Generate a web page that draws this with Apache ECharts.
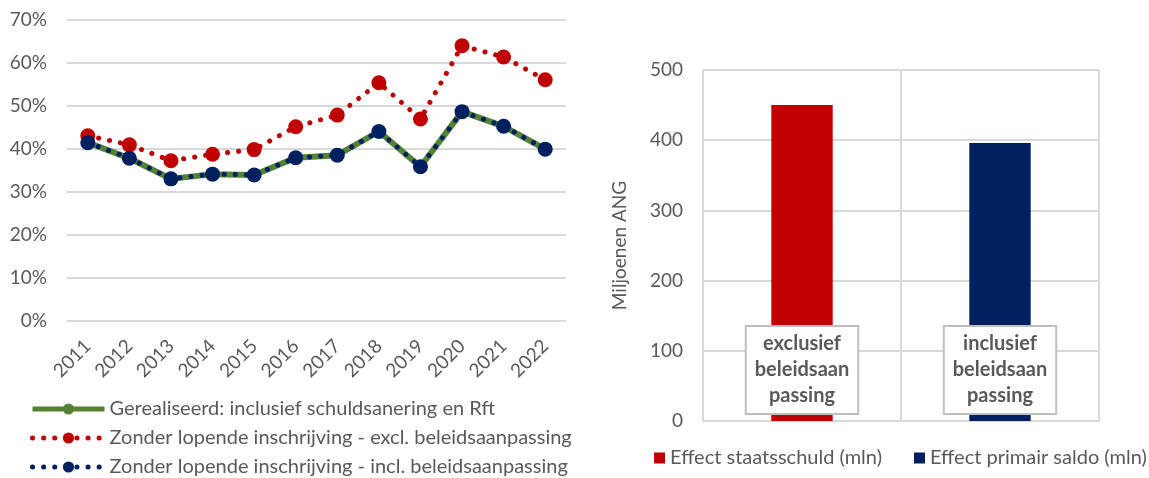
<!DOCTYPE html>
<html>
<head>
    <meta charset="utf-8">
    <title>ECharts</title>
    <script src="https://cdn.jsdelivr.net/npm/echarts@6/dist/echarts.min.js"></script>
</head>
<body style="margin:0">
    <div id="main" style="width: 1149px; height:478px;"></div>

    <script type="text/javascript">
        // data links: aandeel per jaar (%)
        var years = ['2011', '2012', '2013', '2014', '2015', '2016', '2017', '2018', '2019', '2020', '2021', '2022'];
        var gerealiseerd = [41.4, 37.8, 33.0, 34.1, 33.9, 37.9, 38.5, 44.0, 35.8, 48.6, 45.2, 39.9];
        var exclBeleid = [43.0, 40.9, 37.2, 38.7, 39.8, 45.1, 47.8, 55.3, 46.9, 63.9, 61.3, 56.0];
        var inclBeleid = [41.4, 37.8, 33.0, 34.1, 33.9, 37.9, 38.5, 44.0, 35.8, 48.6, 45.2, 39.9];

        // data rechts: miljoenen ANG
        var barCats = ['exclusief beleidsaanpassing', 'inclusief beleidsaanpassing'];
        var barLabels = ['exclusief\nbeleidsaan\npassing', 'inclusief\nbeleidsaan\npassing'];
        var staatsschuld = [450, '-'];
        var primairSaldo = ['-', 396];

        var names = [
            'Gerealiseerd: inclusief schuldsanering en Rft',
            'Zonder lopende inschrijving - excl. beleidsaanpassing',
            'Zonder lopende inschrijving - incl. beleidsaanpassing'
        ];

        var font = 'Lato';
        var grey = '#595959';
        var gridColor = '#d9d9d9';
        var red = '#c00000', navy = '#002060', green = '#548235';

        var myChart = echarts.init(document.getElementById('main'));

        var dotted = function (color) {
            return { color: color, width: 5, type: [0.1, 11], cap: 'round' };
        };

        var boxLabel = {
            show: true,
            position: 'insideBottom',
            distance: 8,
            formatter: function (p) { return barLabels[p.dataIndex]; },
            color: grey,
            fontFamily: font,
            fontWeight: 'bold',
            fontSize: 20,
            lineHeight: 26,
            backgroundColor: '#fff',
            borderColor: '#bfbfbf',
            borderWidth: 2,
            padding: [4, 8, 4, 8]
        };

        var option = {
            animation: false,
            textStyle: { fontFamily: font, color: grey },
            legend: [
                {
                    orient: 'vertical',
                    left: 30,
                    top: 398,
                    padding: 0,
                    height: 90,
                    itemWidth: 72,
                    itemHeight: 14,
                    itemGap: 7,
                    data: [
                        { name: names[0], itemStyle: { color: green }, lineStyle: { color: green, width: 5 } },
                        { name: names[1], itemStyle: { color: red }, lineStyle: dotted(red) },
                        { name: names[2], itemStyle: { color: navy }, lineStyle: dotted(navy) }
                    ],
                    textStyle: { fontFamily: font, fontSize: 20, color: grey, lineHeight: 22 }
                },
                {
                    left: 654,
                    top: 448,
                    padding: 0,
                    itemWidth: 11,
                    itemHeight: 11,
                    itemGap: 32,
                    icon: 'rect',
                    data: ['Effect staatsschuld (mln)', 'Effect primair saldo (mln)'],
                    textStyle: { fontFamily: font, fontSize: 20, color: grey }
                }
            ],
            grid: [
                { left: 67, right: 583, top: 19.5, bottom: 157 },
                { left: 703, right: 50, top: 70, bottom: 57 }
            ],
            xAxis: [
                {
                    type: 'category',
                    gridIndex: 0,
                    data: years,
                    axisLine: { show: false },
                    axisTick: { show: false },
                    axisLabel: { rotate: 45, margin: 22, fontSize: 19, color: grey, fontFamily: font }
                },
                {
                    type: 'category',
                    gridIndex: 1,
                    data: barCats,
                    axisLine: { show: true, lineStyle: { color: gridColor, width: 2 } },
                    axisTick: { show: false },
                    axisLabel: { show: false },
                    splitLine: { show: true, lineStyle: { color: gridColor, width: 2 } }
                }
            ],
            yAxis: [
                {
                    type: 'value',
                    gridIndex: 0,
                    min: 0,
                    max: 70,
                    interval: 10,
                    axisLabel: { formatter: '{value}%', fontSize: 19, color: grey, margin: 20, fontFamily: font },
                    splitLine: { lineStyle: { color: gridColor, width: 2 } }
                },
                {
                    type: 'value',
                    gridIndex: 1,
                    min: 0,
                    max: 500,
                    interval: 100,
                    name: 'Miljoenen ANG',
                    nameLocation: 'middle',
                    nameRotate: 90,
                    nameGap: 74,
                    nameTextStyle: { fontSize: 19, color: grey, fontFamily: font },
                    axisLine: { show: true, lineStyle: { color: gridColor, width: 2 } },
                    axisLabel: { fontSize: 19, color: grey, margin: 20, fontFamily: font },
                    splitLine: { lineStyle: { color: gridColor, width: 2 } }
                }
            ],
            series: [
                {
                    name: names[1],
                    type: 'line',
                    xAxisIndex: 0,
                    yAxisIndex: 0,
                    data: exclBeleid,
                    symbol: 'circle',
                    symbolSize: 15,
                    itemStyle: { color: red },
                    lineStyle: dotted(red),
                    z: 2
                },
                {
                    name: names[0],
                    type: 'line',
                    xAxisIndex: 0,
                    yAxisIndex: 0,
                    data: gerealiseerd,
                    symbol: 'circle',
                    symbolSize: 12,
                    itemStyle: { color: green },
                    lineStyle: { color: green, width: 6 },
                    z: 3
                },
                {
                    name: names[2],
                    type: 'line',
                    xAxisIndex: 0,
                    yAxisIndex: 0,
                    data: inclBeleid,
                    symbol: 'circle',
                    symbolSize: 15,
                    itemStyle: { color: navy },
                    lineStyle: dotted(navy),
                    z: 4
                },
                {
                    name: 'Effect staatsschuld (mln)',
                    type: 'bar',
                    xAxisIndex: 1,
                    yAxisIndex: 1,
                    data: staatsschuld,
                    barWidth: '31%',
                    barGap: '-100%',
                    itemStyle: { color: red },
                    label: boxLabel
                },
                {
                    name: 'Effect primair saldo (mln)',
                    type: 'bar',
                    xAxisIndex: 1,
                    yAxisIndex: 1,
                    data: primairSaldo,
                    barWidth: '31%',
                    barGap: '-100%',
                    itemStyle: { color: navy },
                    label: boxLabel
                }
            ]
        };

        myChart.setOption(option);
    </script>
</body>
</html>
